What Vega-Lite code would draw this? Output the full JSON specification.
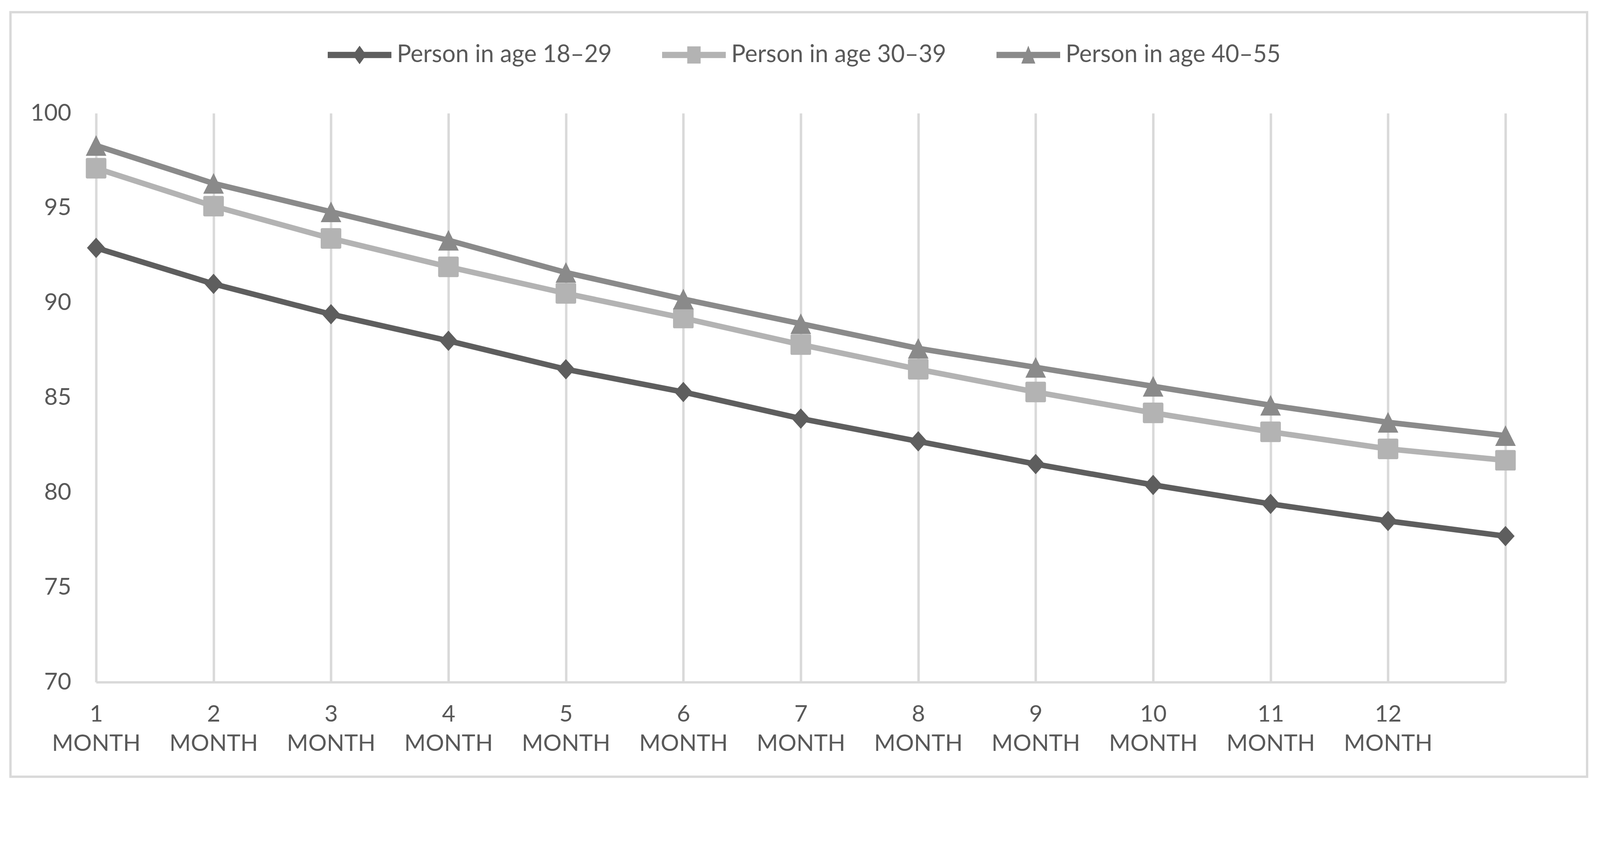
{
  "$schema": "https://vega.github.io/schema/vega-lite/v6.json",
  "description": "Three age groups over 13 months, Excel-style grey line chart.",
  "width": 3608,
  "height": 1457,
  "autosize": {"type": "none"},
  "padding": {"left": 246, "top": 290, "right": 239, "bottom": 271},
  "background": "white",
  "datasets": {
    "ages": [
      {"month": 1, "series": "Person in age 18–29", "value": 92.9},
      {"month": 2, "series": "Person in age 18–29", "value": 91.0},
      {"month": 3, "series": "Person in age 18–29", "value": 89.4},
      {"month": 4, "series": "Person in age 18–29", "value": 88.0},
      {"month": 5, "series": "Person in age 18–29", "value": 86.5},
      {"month": 6, "series": "Person in age 18–29", "value": 85.3},
      {"month": 7, "series": "Person in age 18–29", "value": 83.9},
      {"month": 8, "series": "Person in age 18–29", "value": 82.7},
      {"month": 9, "series": "Person in age 18–29", "value": 81.5},
      {"month": 10, "series": "Person in age 18–29", "value": 80.4},
      {"month": 11, "series": "Person in age 18–29", "value": 79.4},
      {"month": 12, "series": "Person in age 18–29", "value": 78.5},
      {"month": 13, "series": "Person in age 18–29", "value": 77.7},
      {"month": 1, "series": "Person in age 30–39", "value": 97.1},
      {"month": 2, "series": "Person in age 30–39", "value": 95.1},
      {"month": 3, "series": "Person in age 30–39", "value": 93.4},
      {"month": 4, "series": "Person in age 30–39", "value": 91.9},
      {"month": 5, "series": "Person in age 30–39", "value": 90.5},
      {"month": 6, "series": "Person in age 30–39", "value": 89.2},
      {"month": 7, "series": "Person in age 30–39", "value": 87.8},
      {"month": 8, "series": "Person in age 30–39", "value": 86.5},
      {"month": 9, "series": "Person in age 30–39", "value": 85.3},
      {"month": 10, "series": "Person in age 30–39", "value": 84.2},
      {"month": 11, "series": "Person in age 30–39", "value": 83.2},
      {"month": 12, "series": "Person in age 30–39", "value": 82.3},
      {"month": 13, "series": "Person in age 30–39", "value": 81.7},
      {"month": 1, "series": "Person in age 40–55", "value": 98.3},
      {"month": 2, "series": "Person in age 40–55", "value": 96.3},
      {"month": 3, "series": "Person in age 40–55", "value": 94.8},
      {"month": 4, "series": "Person in age 40–55", "value": 93.3},
      {"month": 5, "series": "Person in age 40–55", "value": 91.6},
      {"month": 6, "series": "Person in age 40–55", "value": 90.2},
      {"month": 7, "series": "Person in age 40–55", "value": 88.9},
      {"month": 8, "series": "Person in age 40–55", "value": 87.6},
      {"month": 9, "series": "Person in age 40–55", "value": 86.6},
      {"month": 10, "series": "Person in age 40–55", "value": 85.6},
      {"month": 11, "series": "Person in age 40–55", "value": 84.6},
      {"month": 12, "series": "Person in age 40–55", "value": 83.7},
      {"month": 13, "series": "Person in age 40–55", "value": 83.0}
    ]
  },
  "data": {"name": "ages"},
  "layer": [
    {
      "data": {"values": [{}]},
      "mark": {"type": "rect", "fill": "transparent", "stroke": "#d9d9d9", "strokeWidth": 6, "clip": false},
      "encoding": {
        "x": {"datum": 0.271, "type": "quantitative", "title": null, "scale": {"domain": [1, 13], "nice": false, "zero": false}},
        "x2": {"datum": 13.695},
        "y": {"datum": 105.33, "type": "quantitative", "title": null, "scale": {"domain": [70, 100], "nice": false, "zero": false}},
        "y2": {"datum": 65.01}
      }
    },
    {
      "transform": [{"filter": "datum.series === 'Person in age 18–29'"}],
      "mark": {"type": "line", "color": "#5e5e5e", "strokeWidth": 14.3, "strokeJoin": "round", "strokeCap": "round"},
      "encoding": {
        "x": {
          "field": "month",
          "type": "quantitative",
          "title": null,
          "scale": {"domain": [1, 13], "nice": false, "zero": false},
          "axis": {
            "values": [1, 2, 3, 4, 5, 6, 7, 8, 9, 10, 11, 12, 13],
            "grid": true,
            "gridColor": "#d9d9d9",
            "gridWidth": 6.2,
            "domainColor": "#d9d9d9",
            "domainWidth": 6.2,
            "ticks": false,
            "tickSize": 0,
            "labelExpr": "datum.value < 13 ? ['' + datum.value, 'MONTH'] : ''",
            "labelFont": "Lato",
            "labelFontSize": 59,
            "labelColor": "#595959",
            "labelAlign": "center",
            "labelBaseline": "top",
            "labelPadding": 53,
            "labelLineHeight": 75,
            "labelLimit": 1000,
            "labelFlush": false,
            "labelOverlap": false,
            "labelBound": false
          }
        },
        "y": {
          "field": "value",
          "type": "quantitative",
          "title": null,
          "scale": {"domain": [70, 100], "nice": false, "zero": false},
          "axis": {
            "values": [70, 75, 80, 85, 90, 95, 100],
            "grid": false,
            "domain": false,
            "ticks": false,
            "labelFont": "Lato",
            "labelFontSize": 60,
            "labelColor": "#595959",
            "labelPadding": 64
          }
        }
      }
    },
    {
      "transform": [{"filter": "datum.series === 'Person in age 18–29'"}],
      "mark": {"type": "point", "shape": "M0,-1L0.9,0L0,1L-0.9,0Z", "size": 2704, "filled": true, "opacity": 1, "color": "#5e5e5e"},
      "encoding": {
        "x": {"field": "month", "type": "quantitative", "title": null, "scale": {"domain": [1, 13], "nice": false, "zero": false}},
        "y": {"field": "value", "type": "quantitative", "title": null, "scale": {"domain": [70, 100], "nice": false, "zero": false}}
      }
    },
    {
      "transform": [{"filter": "datum.series === 'Person in age 30–39'"}],
      "mark": {"type": "line", "color": "#b3b3b3", "strokeWidth": 14.3, "strokeJoin": "round", "strokeCap": "round"},
      "encoding": {
        "x": {"field": "month", "type": "quantitative", "title": null, "scale": {"domain": [1, 13], "nice": false, "zero": false}},
        "y": {"field": "value", "type": "quantitative", "title": null, "scale": {"domain": [70, 100], "nice": false, "zero": false}}
      }
    },
    {
      "transform": [{"filter": "datum.series === 'Person in age 30–39'"}],
      "mark": {"type": "point", "shape": "M-0.85,-1H0.85Q1,-1 1,-0.85V0.85Q1,1 0.85,1H-0.85Q-1,1 -1,0.85V-0.85Q-1,-1 -0.85,-1Z", "size": 2777, "filled": true, "opacity": 1, "color": "#b3b3b3"},
      "encoding": {
        "x": {"field": "month", "type": "quantitative", "title": null, "scale": {"domain": [1, 13], "nice": false, "zero": false}},
        "y": {"field": "value", "type": "quantitative", "title": null, "scale": {"domain": [70, 100], "nice": false, "zero": false}}
      }
    },
    {
      "transform": [{"filter": "datum.series === 'Person in age 40–55'"}],
      "mark": {"type": "line", "color": "#8a8a8a", "strokeWidth": 14.3, "strokeJoin": "round", "strokeCap": "round"},
      "encoding": {
        "x": {"field": "month", "type": "quantitative", "title": null, "scale": {"domain": [1, 13], "nice": false, "zero": false}},
        "y": {"field": "value", "type": "quantitative", "title": null, "scale": {"domain": [70, 100], "nice": false, "zero": false}}
      }
    },
    {
      "transform": [{"filter": "datum.series === 'Person in age 40–55'"}],
      "mark": {"type": "point", "shape": "M0,-1L1,1L-1,1Z", "size": 2777, "filled": true, "opacity": 1, "color": "#8a8a8a", "strokeJoin": "round"},
      "encoding": {
        "x": {"field": "month", "type": "quantitative", "title": null, "scale": {"domain": [1, 13], "nice": false, "zero": false}},
        "y": {"field": "value", "type": "quantitative", "title": null, "scale": {"domain": [70, 100], "nice": false, "zero": false}}
      }
    },
    {
      "mark": {"type": "point", "filled": true, "opacity": 0},
      "encoding": {
        "x": {"field": "month", "type": "quantitative", "title": null, "scale": {"domain": [1, 13], "nice": false, "zero": false}},
        "y": {"field": "value", "type": "quantitative", "title": null, "scale": {"domain": [70, 100], "nice": false, "zero": false}},
        "color": {
          "field": "series",
          "type": "nominal",
          "scale": {
            "domain": ["Person in age 18–29", "Person in age 30–39", "Person in age 40–55"],
            "range": ["#5e5e5e", "#b3b3b3", "#8a8a8a"]
          },
          "legend": {
            "orient": "none",
            "legendX": 593,
            "legendY": -231,
            "direction": "horizontal",
            "title": null,
            "symbolSize": 26569,
            "symbolStrokeWidth": 0,
            "symbolOpacity": 1,
            "labelFont": "Lato",
            "labelFontSize": 61,
            "labelColor": "#595959",
            "labelOffset": 14,
            "labelLimit": 2000,
            "columnPadding": 128,
            "padding": 0
          }
        },
        "shape": {
          "field": "series",
          "type": "nominal",
          "scale": {
            "domain": ["Person in age 18–29", "Person in age 30–39", "Person in age 40–55"],
            "range": [
              "M-1,-0.097H1V0.097H-1Z M0,-0.29L0.21,0L0,0.29L-0.21,0Z",
              "M-1,-0.097H1V0.097H-1Z M-0.21,-0.27H0.21V0.27H-0.21Z",
              "M-1,-0.097H1V0.097H-1Z M0,-0.29L0.22,0.27H-0.22Z"
            ]
          },
          "legend": {
            "orient": "none",
            "legendX": 593,
            "legendY": -231,
            "direction": "horizontal",
            "title": null,
            "symbolSize": 26569,
            "symbolStrokeWidth": 0,
            "symbolOpacity": 1,
            "labelFont": "Lato",
            "labelFontSize": 61,
            "labelColor": "#595959",
            "labelOffset": 14,
            "labelLimit": 2000,
            "columnPadding": 128,
            "padding": 0
          }
        }
      }
    }
  ],
  "config": {
    "view": {"stroke": null},
    "font": "Lato"
  }
}
